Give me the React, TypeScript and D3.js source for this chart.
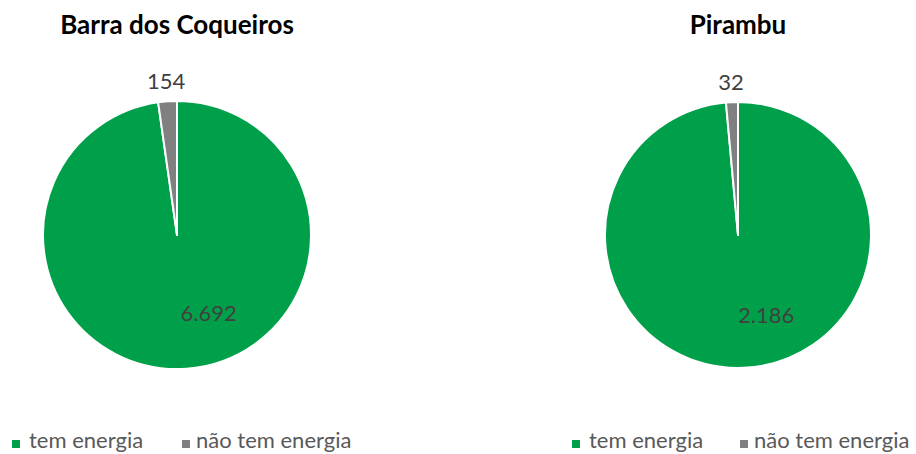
import React from "react";
import * as d3 from "d3";

const places = ["Barra dos Coqueiros", "Pirambu"];
const categories = ["tem energia", "não tem energia"];
const temEnergia = [6692, 2186];
const naoTemEnergia = [154, 32];

const colors = ["#00A04A", "#808080"];
const W = 916;
const H = 454;

const locale = d3.formatLocale({ decimal: ",", thousands: ".", grouping: [3], currency: ["R$", ""] });
const fmt = locale.format(",d");

const layout = [
  { cx: 177, cy: 235, r: 134, insideAngle: 158, insideRadius: 0.63, legendX: 12, legendGap: 170 },
  { cx: 738, cy: 235, r: 133, insideAngle: 160.7, insideRadius: 0.64, legendX: 572, legendGap: 168 },
];

const FONT = "Lato, 'Open Sans', sans-serif";

function PieChart({ idx }: { idx: number }) {
  const L = layout[idx];
  const values = [temEnergia[idx], naoTemEnergia[idx]];
  const pie = d3.pie<number>().sort(null).value((d) => d);
  const arcs = pie(values);
  const arc = d3.arc<d3.PieArcDatum<number>>().innerRadius(0).outerRadius(L.r);
  const outerArc = d3.arc<d3.PieArcDatum<number>>().innerRadius(L.r + 21).outerRadius(L.r + 21);
  const ang = (L.insideAngle * Math.PI) / 180;
  const ir = L.r * L.insideRadius;
  return (
    <g>
      <text x={L.cx} y={33.5} textAnchor="middle" fontFamily={FONT} fontWeight="bold" fontSize={26} fill="#000">
        {places[idx]}
      </text>
      <g transform={`translate(${L.cx},${L.cy})`}>
        {arcs.map((a, i) => (
          <path key={i} d={arc(a) || ""} fill={colors[i]} stroke="#fff" strokeWidth={2} strokeLinejoin="round" />
        ))}
        <text x={Math.sin(ang) * ir} y={-Math.cos(ang) * ir - 1} textAnchor="middle" dominantBaseline="central" fontFamily={FONT} fontSize={22} fill="#404040">
          {fmt(values[0])}
        </text>
        <text x={outerArc.centroid(arcs[1])[0]} y={outerArc.centroid(arcs[1])[1]} textAnchor="middle" dominantBaseline="central" fontFamily={FONT} fontSize={22} fill="#404040">
          {fmt(values[1])}
        </text>
      </g>
      <g transform={`translate(${L.legendX},444)`}>
        <rect x={0} y={-4} width={8} height={8} fill={colors[0]} />
        <text x={17} y={4} fontFamily={FONT} fontSize={22} fill="#595959">{categories[0]}</text>
        <rect x={L.legendGap} y={-4} width={8} height={8} fill={colors[1]} />
        <text x={L.legendGap + 14} y={4} fontFamily={FONT} fontSize={22} fill="#595959">{categories[1]}</text>
      </g>
    </g>
  );
}

export default function App() {
  return (
    <svg width={W} height={H} style={{ position: "absolute", left: 0, top: 0, background: "#fff" }}>
      <rect width={W} height={H} fill="#fff" />
      <PieChart idx={0} />
      <PieChart idx={1} />
    </svg>
  );
}
